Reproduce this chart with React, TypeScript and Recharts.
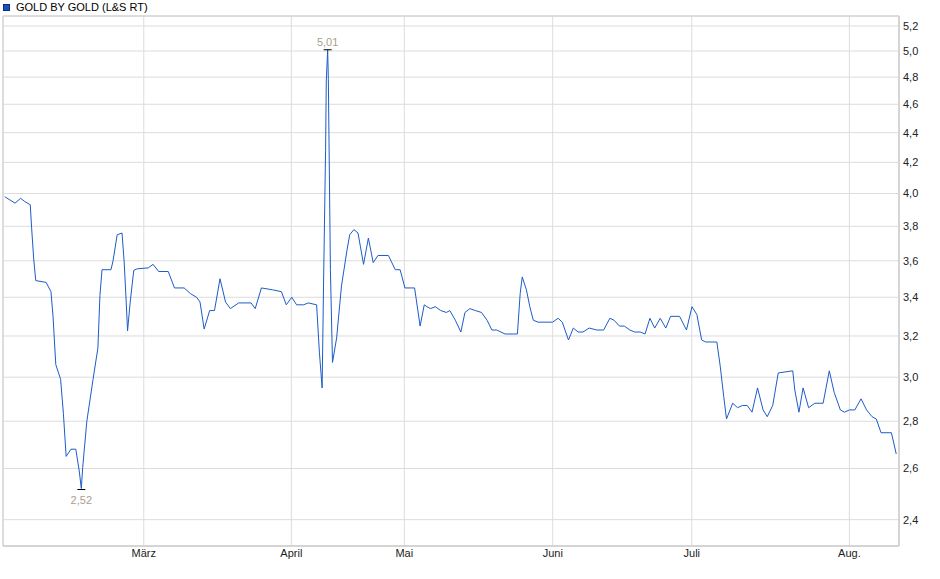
import React from 'react';
import { LineChart, Line, XAxis, YAxis, CartesianGrid, ReferenceArea } from 'recharts';

const seriesName = 'GOLD BY GOLD (L&S RT)';

// trading-day index (fractional where the picture shows intra-period steps)
const days = [
  0.1, 1.6, 2.4, 3.0, 3.8, 4.0, 4.3, 4.6, 6.1, 6.8, 7.1, 7.5, 8.2, 8.6, 9.0, 9.7, 10.4, 10.9, 11.2, 11.4,
  12.0, 12.9, 13.6, 13.9, 14.2, 15.5, 15.8, 16.4, 17.1, 17.4, 17.7, 17.9, 18.3, 18.8, 19.3, 20.9, 21.6, 22.4, 23.8, 24.7,
  26.1, 27.0, 27.9, 28.4, 29.0, 29.8, 30.5, 31.3, 32.1, 32.8, 34.0, 35.8, 36.4, 37.3, 38.9, 40.2, 40.9, 41.7, 42.4, 43.4,
  44.1, 45.3, 45.7, 46.1, 46.3, 46.6, 46.7, 46.9, 47.0, 47.1, 47.3, 47.6, 48.2, 48.9, 49.7, 50.1, 50.7, 51.3, 52.1, 52.8,
  53.5, 54.2, 55.7, 56.7, 57.4, 58.1, 59.5, 60.3, 60.9, 61.3, 61.8, 62.5, 63.3, 64.1, 64.6, 65.4, 66.2, 66.8, 67.5, 68.3,
  69.2, 70.0, 70.7, 71.4, 72.6, 73.8, 74.4, 74.8, 75.1, 75.7, 76.2, 76.7, 77.4, 79.5, 80.3, 80.9, 81.8, 82.5, 83.2, 83.9,
  84.8, 85.9, 86.9, 87.8, 88.4, 89.2, 89.9, 90.7, 91.4, 92.2, 92.9, 93.6, 94.3, 95.1, 95.9, 96.6, 97.9, 98.9, 99.7, 100.4,
  101.1, 101.7, 103.3, 103.8, 104.3, 104.7, 105.6, 106.3, 107.0, 107.7, 108.4, 109.2, 110.0, 110.6, 111.4, 112.2, 114.3, 114.6, 115.2, 115.8,
  116.6, 117.5, 118.7, 119.6, 120.3, 121.2, 121.8, 122.5, 123.3, 124.2, 125.0, 125.8, 126.4, 127.1, 128.6, 129.3,
];

const prices = [
  3.98, 3.94, 3.97, 3.95, 3.93, 3.79, 3.61, 3.49, 3.48, 3.43, 3.30, 3.06, 2.99, 2.835, 2.65, 2.68, 2.68, 2.59, 2.52, 2.605,
  2.80, 2.99, 3.14, 3.41, 3.55, 3.55, 3.60, 3.75, 3.76, 3.60, 3.38, 3.226, 3.38, 3.546, 3.555, 3.56, 3.58, 3.54, 3.54, 3.45,
  3.45, 3.42, 3.40, 3.375, 3.235, 3.33, 3.33, 3.50, 3.375, 3.34, 3.37, 3.37, 3.34, 3.45, 3.44, 3.43, 3.36, 3.40, 3.36, 3.36,
  3.37, 3.36, 3.12, 2.95, 3.46, 4.28, 4.77, 5.01, 4.78, 4.33, 3.55, 3.07, 3.19, 3.46, 3.66, 3.75, 3.78, 3.76, 3.58, 3.73,
  3.59, 3.63, 3.63, 3.55, 3.55, 3.45, 3.45, 3.25, 3.36, 3.35, 3.34, 3.35, 3.33, 3.32, 3.33, 3.28, 3.22, 3.32, 3.34, 3.33,
  3.32, 3.28, 3.23, 3.23, 3.21, 3.21, 3.21, 3.42, 3.51, 3.44, 3.35, 3.28, 3.27, 3.27, 3.29, 3.27, 3.18, 3.24, 3.22, 3.22,
  3.24, 3.23, 3.23, 3.29, 3.28, 3.25, 3.25, 3.23, 3.22, 3.22, 3.21, 3.29, 3.24, 3.29, 3.24, 3.30, 3.30, 3.23, 3.35, 3.31,
  3.18, 3.17, 3.17, 3.05, 2.91, 2.81, 2.88, 2.86, 2.87, 2.87, 2.84, 2.95, 2.85, 2.82, 2.87, 3.02, 3.03, 2.94, 2.84, 2.95,
  2.86, 2.88, 2.88, 3.03, 2.93, 2.85, 2.84, 2.85, 2.85, 2.90, 2.85, 2.82, 2.81, 2.75, 2.75, 2.66,
];

const monthTicks = [20.25, 41.64, 58.01, 79.52, 99.67, 122.51];
const monthLabels = ['März', 'April', 'Mai', 'Juni', 'Juli', 'Aug.'];
const priceTicks = [2.4, 2.6, 2.8, 3.0, 3.2, 3.4, 3.6, 3.8, 4.0, 4.2, 4.4, 4.6, 4.8, 5.0, 5.2];

const xDomain: [number, number] = [-0.15, 129.7];
const yDomain: [number, number] = [2.303, 5.282];

const data = days.map((t, i) => ({ t, price: prices[i] }));

let maxIdx = 0;
let minIdx = 0;
prices.forEach((p, i) => {
  if (p > prices[maxIdx]) maxIdx = i;
  if (p < prices[minIdx]) minIdx = i;
});

const fmt = (v: number, d: number) => v.toFixed(d).replace('.', ',');

const FONT = '"Liberation Sans", Arial, sans-serif';
const LINE_COLOR = '#1c5cc8';
const GRID = '#dcdcdc';
const MARK_TEXT = '#a89e92';

function ExtremeDot(props: any) {
  const { cx, cy, index } = props;
  if (index === maxIdx) {
    return (
      <g key={`dot-${index}`}>
        <line x1={cx - 4} x2={cx + 4} y1={cy} y2={cy} stroke="#000" strokeWidth={1} />
        <text x={cx} y={cy - 4} textAnchor="middle" fill={MARK_TEXT} fontSize={11} fontFamily={FONT}>
          {fmt(prices[index], 2)}
        </text>
      </g>
    );
  }
  if (index === minIdx) {
    return (
      <g key={`dot-${index}`}>
        <line x1={cx - 4} x2={cx + 4} y1={cy + 1} y2={cy + 1} stroke="#000" strokeWidth={1} />
        <text x={cx} y={cy + 15} textAnchor="middle" fill={MARK_TEXT} fontSize={11} fontFamily={FONT}>
          {fmt(prices[index], 2)}
        </text>
      </g>
    );
  }
  return <g key={`dot-${index}`} />;
}

export default function App() {
  return (
    <div style={{ position: 'absolute', left: 0, top: 0, width: 940, height: 579, background: '#fff' }}>
      <div
        style={{
          position: 'absolute',
          left: 3,
          top: 0,
          display: 'flex',
          alignItems: 'center',
          fontFamily: FONT,
          fontSize: 11,
          color: '#000',
          lineHeight: '14px',
          zIndex: 2,
        }}
      >
        <span
          style={{
            display: 'inline-block',
            width: 5,
            height: 5,
            background: '#1a50c0',
            border: '1px solid #0b2e80',
            marginRight: 6,
          }}
        />
        <span>{seriesName}</span>
      </div>
      <LineChart
        width={940}
        height={579}
        data={data}
        margin={{ top: 16, right: 0, bottom: 0, left: 3 }}
      >
        <CartesianGrid stroke={GRID} strokeWidth={1} />
        <XAxis
          dataKey="t"
          type="number"
          domain={xDomain}
          allowDataOverflow
          ticks={monthTicks}
          tickFormatter={(v: number) => monthLabels[monthTicks.indexOf(v)] ?? ''}
          tickLine={false}
          tickSize={0}
          tickMargin={3}
          height={33}
          axisLine={{ stroke: '#cccccc' }}
          tick={{ fill: '#222', fontSize: 11, fontFamily: FONT }}
          interval={0}
        />
        <YAxis
          orientation="right"
          scale="log"
          domain={yDomain}
          allowDataOverflow
          ticks={priceTicks}
          tickFormatter={(v: number) => fmt(v, 1)}
          tickLine={false}
          tickSize={0}
          tickMargin={4}
          width={41}
          axisLine={{ stroke: '#cccccc' }}
          tick={{ fill: '#222', fontSize: 11, fontFamily: FONT, textAnchor: 'start' }}
          interval={0}
        />
        <ReferenceArea
          x1={xDomain[0]}
          x2={xDomain[1]}
          y1={yDomain[0]}
          y2={yDomain[1]}
          fill="none"
          stroke="#cccccc"
          ifOverflow="visible"
        />
        <Line
          type="linear"
          dataKey="price"
          stroke={LINE_COLOR}
          strokeWidth={1}
          dot={ExtremeDot}
          activeDot={false}
          isAnimationActive={false}
        />
      </LineChart>
    </div>
  );
}
